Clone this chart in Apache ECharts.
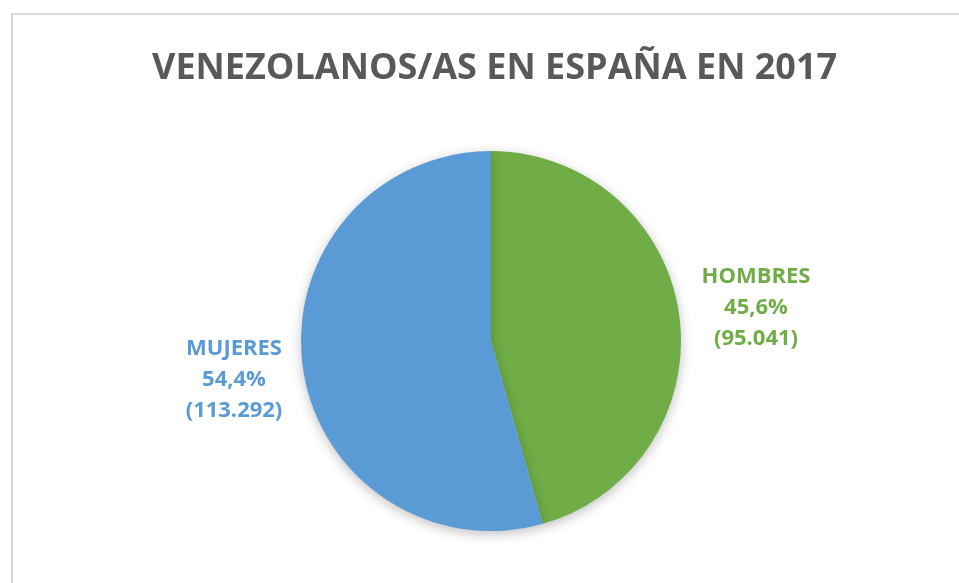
<!DOCTYPE html>
<html>
<head>
<meta charset="utf-8">
<script src="https://cdn.jsdelivr.net/npm/echarts@6/dist/echarts.min.js"></script>
<style>
  html, body { margin: 0; padding: 0; background: #fff; }
  #main { width: 959px; height: 583px; }
</style>
</head>
<body>
<div id="main"></div>
<script>
// datos
const categorias = ['HOMBRES', 'MUJERES'];
const valores = [95041, 113292];
const colores = ['#70AD47', '#5B9BD5'];
// posiciones de las etiquetas (centro del bloque de texto)
const posEtiquetas = [[756, 308], [234, 380]];

const chart = echarts.init(document.getElementById('main'));

function miles(n) {
    return String(n).replace(/\B(?=(\d{3})+(?!\d))/g, '.');
}

const option = {
    backgroundColor: '#fff',
    animation: false,
    title: {
        text: 'VENEZOLANOS/AS EN ESPAÑA EN 2017',
        left: 147,
        top: 46,
        textStyle: {
            fontFamily: 'Open Sans',
            fontWeight: 'bold',
            fontSize: 36,
            color: '#595959'
        }
    },
    graphic: [
        {
            type: 'rect',
            shape: { x: 12, y: 14, width: 1000, height: 700 },
            style: { fill: 'none', stroke: '#d9d9d9', lineWidth: 2 },
            silent: true
        }
    ],
    series: [
        {
            type: 'pie',
            center: [491, 341],
            radius: 190,
            startAngle: 90,
            clockwise: true,
            label: {
                show: true,
                position: 'outside',
                fontFamily: 'Open Sans',
                fontWeight: 'bold',
                fontSize: 22,
                lineHeight: 31,
                align: 'center',
                formatter: function (p) {
                    return p.name + '\n' + p.percent.toFixed(1).replace('.', ',') + '%\n(' + miles(p.value) + ')';
                }
            },
            labelLine: { show: false },
            labelLayout: function (params) {
                const pos = posEtiquetas[params.dataIndex];
                return { x: pos[0], y: pos[1], align: 'center', verticalAlign: 'middle' };
            },
            itemStyle: {
                shadowBlur: 12,
                shadowColor: 'rgba(0,0,0,0.25)',
                shadowOffsetY: 3
            },
            emphasis: { disabled: true },
            data: categorias.map(function (c, i) {
                return {
                    name: c,
                    value: valores[i],
                    itemStyle: { color: colores[i] },
                    label: { color: colores[i] }
                };
            })
        }
    ]
};

chart.setOption(option);
</script>
</body>
</html>
